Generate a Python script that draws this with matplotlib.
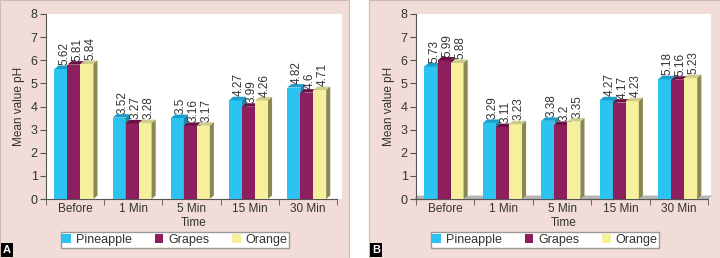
import matplotlib
matplotlib.use("Agg")
import matplotlib.pyplot as plt
from matplotlib.patches import Polygon, Rectangle

plt.rcParams["font.family"] = ["Liberation Sans", "DejaVu Sans"]

# ---------- Data ----------
categories = ["Before", "1 Min", "5 Min", "15 Min", "30 Min"]
series = ["Pineapple", "Grapes", "Orange"]

a_pineapple = [5.62, 3.52, 3.5, 4.27, 4.82]
a_grapes = [5.81, 3.27, 3.16, 3.99, 4.6]
a_orange = [5.84, 3.28, 3.17, 4.26, 4.71]

b_pineapple = [5.73, 3.29, 3.38, 4.27, 5.18]
b_grapes = [5.99, 3.11, 3.2, 4.17, 5.16]
b_orange = [5.88, 3.23, 3.35, 4.23, 5.23]

y_ticks = [0, 1, 2, 3, 4, 5, 6, 7, 8]

# ---------- Styles ----------
front = ["#2cc3f0", "#8e1f5e", "#f6f09c"]
top = ["#1a9fcb", "#6b1044", "#cfcb8a"]
side = ["#1b86a8", "#581036", "#8a8852"]
pink = "#f2dcd7"
text_c = "#333333"
axis_c = "#555555"

W, H = 720, 258
fig = plt.figure(figsize=(W / 100, H / 100), dpi=100)

# panel backgrounds
for x0, x1 in [(0, 349), (369, 720)]:
    fig.patches.append(Rectangle((x0 / W, 0), (x1 - x0) / W, 1,
                                 transform=fig.transFigure, facecolor=pink,
                                 edgecolor="#cdbbb6", linewidth=0.8,
                                 zorder=-10))

bw = 0.223
dx, dy = 0.07, 0.15


def draw_panel(ax, values, floor):
    ax.set_facecolor("white")
    ax.set_ylim(0, 8)
    if floor:
        ax.add_patch(Polygon([(-0.55, -0.05), (4.5, -0.05), (4.5 + dx, dy),
                              (-0.55 + dx, dy)], closed=True,
                             facecolor="#b5b5b5", edgecolor="none", zorder=1,
                             clip_on=False))
    for i, vals in enumerate(values):
        for c, h in enumerate(vals):
            x0 = c + (i - 1) * bw - bw / 2 - 0.02
            x1 = x0 + bw
            ax.add_patch(Rectangle((x0, 0), bw, h, facecolor=front[i],
                                   edgecolor="none", zorder=3 + i))
            ax.add_patch(Polygon([(x0, h), (x1, h), (x1 + dx, h + dy),
                                  (x0 + dx, h + dy)], closed=True,
                                 facecolor=top[i], edgecolor="none",
                                 zorder=3 + i))
            ax.add_patch(Polygon([(x1, 0), (x1 + dx, dy), (x1 + dx, h + dy),
                                  (x1, h)], closed=True, facecolor=side[i],
                                 edgecolor="none", zorder=3 + i))
            ax.text(x0 + bw / 2 + dx / 2 + 0.02, h + dy + 0.02, f"{h:g}",
                    rotation=90, ha="center", va="bottom", fontsize=8.5,
                    color=text_c, zorder=10)

    ax.set_yticks(y_ticks)
    ax.set_xticks(range(len(categories)))
    ax.set_xticklabels(categories)
    ax.set_xticks([c - 0.5 for c in range(len(categories) + 1)], minor=True)
    ax.tick_params(axis="x", which="major", length=0, pad=3, labelsize=8.5,
                   labelcolor=text_c)
    ax.tick_params(axis="x", which="minor", length=4, color=axis_c,
                   direction="out")
    ax.tick_params(axis="y", length=4, color=axis_c, labelsize=9,
                   labelcolor=text_c, pad=2)
    for s in ["top", "right"]:
        ax.spines[s].set_visible(False)
    ax.spines["bottom"].set_bounds(-0.5, 4.5)
    ax.spines["bottom"].set_color(axis_c)
    ax.spines["left"].set_color(axis_c)
    ax.set_xlabel("Time", fontsize=8.5, color=text_c, labelpad=1)
    ax.set_ylabel("Mean value pH", fontsize=8.5, color=text_c, labelpad=4)


def fig_rect(l, r, t, b):
    return [l / W, (H - b) / H, (r - l) / W, (b - t) / H]


ax_a = fig.add_axes(fig_rect(46, 342, 14, 199))
ax_a.set_xlim(-0.5, 4.586)
draw_panel(ax_a, [a_pineapple, a_grapes, a_orange], floor=False)

ax_b = fig.add_axes(fig_rect(416, 711, 14, 199))
ax_b.set_xlim(-0.5, 4.55)
draw_panel(ax_b, [b_pineapple, b_grapes, b_orange], floor=True)

# legends
handles = [Rectangle((0, 0), 1, 1, facecolor=front[i], edgecolor="none")
           for i in range(3)]
for cx in [175, 545]:
    fig.legend(handles, series, loc="center",
               bbox_to_anchor=(cx / W, (H - 240) / H), ncol=3,
               fontsize=9, frameon=True, fancybox=False,
               edgecolor="#999999", facecolor="white", framealpha=1,
               handlelength=0.7, handleheight=0.7, handletextpad=0.4,
               columnspacing=1.8, borderpad=0.15, borderaxespad=0,
               labelcolor=text_c)

# panel letters
for x, s in [(3, "A"), (372, "B")]:
    fig.text(x / W, 3 / H, s, fontsize=8, fontweight="bold", color="white",
             ha="left", va="bottom",
             bbox=dict(boxstyle="square,pad=0.15", facecolor="black",
                       edgecolor="none"))

fig.savefig("out.png", dpi=100)
